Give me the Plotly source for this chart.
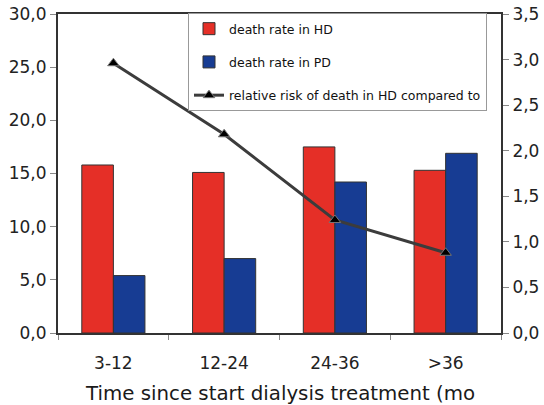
import plotly.graph_objects as go

categories = ["3-12", "12-24", "24-36", ">36"]
death_rate_hd = [15.8, 15.1, 17.5, 15.3]
death_rate_pd = [5.4, 7.0, 14.2, 16.9]
relative_risk = [2.96, 2.18, 1.24, 0.88]

fig = go.Figure()
fig.add_trace(go.Bar(x=categories, y=death_rate_hd, name="death rate in HD",
                     marker=dict(color="#E52F27", line=dict(color="#333333", width=1)),
                     legendgroup="a"))
fig.add_trace(go.Bar(x=categories, y=death_rate_pd, name="death rate in PD",
                     marker=dict(color="#173C93", line=dict(color="#333333", width=1)),
                     legendgroup="b"))
fig.add_trace(go.Scatter(x=categories, y=relative_risk, yaxis="y2",
                         name="relative risk of death in HD compared to",
                         mode="lines+markers",
                         line=dict(color="#3c3c3c", width=3),
                         marker=dict(symbol="triangle-up", size=10, color="black",
                                     line=dict(color="#777777", width=1)),
                         legendgroup="c"))

axis_font = dict(family="DejaVu Sans", size=17, color="#222222")
fig.update_layout(
    width=544, height=405,
    margin=dict(l=58, r=43, t=14, b=72, autoexpand=False),
    paper_bgcolor="white", plot_bgcolor="white",
    separators=", ",
    barmode="group", bargap=0.43, bargroupgap=0,
    font=dict(family="DejaVu Sans", color="#222222"),
    xaxis=dict(showline=True, linecolor="#333333", linewidth=2, mirror=True,
               ticks="outside", tickson="boundaries", ticklen=5, tickcolor="#888888",
               tickfont=axis_font, showgrid=False, ticklabelstandoff=14,
               automargin=False),
    yaxis=dict(range=[0, 30], dtick=5, tickformat=".1f", showline=True,
               linecolor="#333333", linewidth=2, ticks="outside", ticklen=6,
               tickcolor="#888888", tickfont=axis_font, showgrid=False, zeroline=False,
               ticklabelstandoff=0, automargin=False),
    yaxis2=dict(range=[0, 3.5], dtick=0.5, tickformat=".1f", overlaying="y", side="right",
                showline=True, linecolor="#333333", linewidth=2, ticks="outside", ticklen=6,
                tickcolor="#888888", tickfont=axis_font, showgrid=False, zeroline=False,
                automargin=False),
    showlegend=True,
    legend=dict(x=(188 - 58) / 443, y=1.003, xanchor="left", yanchor="top",
                bgcolor="white", bordercolor="#999999", borderwidth=1,
                font=dict(family="DejaVu Sans", size=12.5, color="#111111"),
                tracegroupgap=14, traceorder="grouped"),
)
fig.add_annotation(text="Time since start dialysis treatment (mo",
                   xref="paper", yref="paper", x=(83 - 58) / 443, y=-47 / 319,
                   xanchor="left", yanchor="top", showarrow=False,
                   font=dict(family="DejaVu Sans", size=19.8, color="#1a1a1a"))

fig.write_html("out.html")
